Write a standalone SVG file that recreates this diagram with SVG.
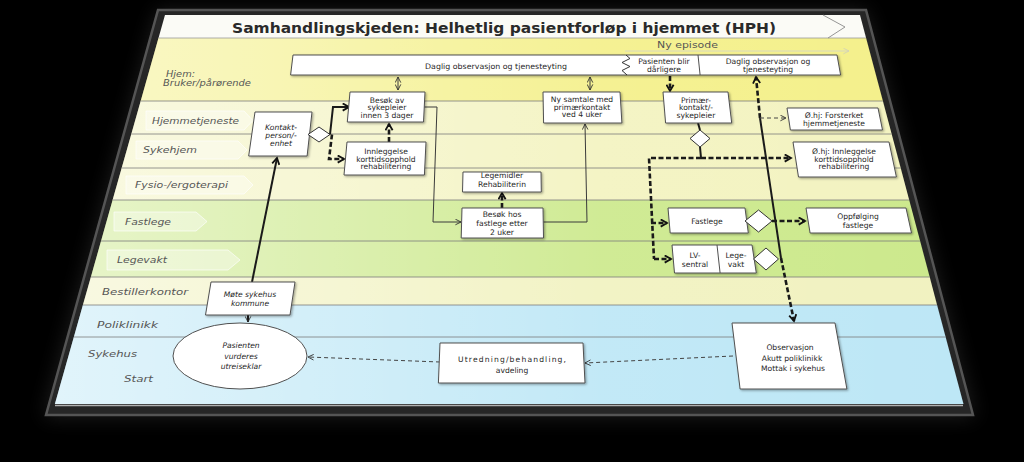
<svg xmlns="http://www.w3.org/2000/svg" width="1024" height="462" viewBox="0 0 1024 462">
<defs>
<style>
.ll{stroke:#7c7c7c;stroke-width:.8;fill:none}
.box{fill:#fff;stroke:#505050;stroke-width:1;filter:url(#sh)}
.t{font-family:"DejaVu Sans",Verdana,sans-serif;fill:#262626;text-anchor:middle;font-size:7.6px}
.ti{font-style:italic}
.lab{font-family:"DejaVu Sans",Verdana,sans-serif;fill:#565656;font-style:italic;font-size:9.5px}
.tag{fill:#fff;fill-opacity:.35;stroke:#fff;stroke-opacity:.8;stroke-width:.8}
.thin{fill:none;stroke:#3a3a3a;stroke-width:1}
.thick{fill:none;stroke:#1a1a1a;stroke-width:2}
.dash{fill:none;stroke:#1a1a1a;stroke-width:2.6;stroke-dasharray:5 2.5}
.tdash{fill:none;stroke:#444;stroke-width:1;stroke-dasharray:4 3}
.dia{fill:#fff;stroke:#333;stroke-width:1}
</style>
<linearGradient id="light" gradientUnits="userSpaceOnUse" x1="50" y1="0" x2="970" y2="0">
<stop offset="0" stop-color="#fff" stop-opacity=".55"/>
<stop offset=".3" stop-color="#fff" stop-opacity=".32"/>
<stop offset=".6" stop-color="#fff" stop-opacity=".08"/>
<stop offset="1" stop-color="#fff" stop-opacity="0"/>
</linearGradient>
<filter id="glow" x="-20%" y="-20%" width="140%" height="140%"><feGaussianBlur stdDeviation="10"/></filter>
<filter id="sh" x="-10%" y="-10%" width="130%" height="140%"><feDropShadow dx="1.2" dy="1.2" stdDeviation=".8" flood-color="#000" flood-opacity=".35"/></filter>
<marker id="arr" viewBox="0 0 10 10" refX="9" refY="5" markerWidth="7" markerHeight="7" markerUnits="userSpaceOnUse" orient="auto-start-reverse"><path d="M1,1 L9,5 L1,9" fill="none" stroke="#333" stroke-width="1.3"/></marker>
<marker id="arrB" viewBox="0 0 10 10" refX="8" refY="5" markerWidth="9" markerHeight="9" markerUnits="userSpaceOnUse" orient="auto-start-reverse"><path d="M1,1 L8,5 L1,9" fill="none" stroke="#111" stroke-width="2"/></marker>
<marker id="arrL" viewBox="0 0 10 10" refX="9" refY="5" markerWidth="7" markerHeight="7" markerUnits="userSpaceOnUse" orient="auto"><path d="M1,1 L9,5 L1,9" fill="none" stroke="#d0d0b8" stroke-width="1.2"/></marker>
</defs>

<rect width="1024" height="462" fill="#000"/>
<polygon points="158,10 866,10 975,417 44,417" fill="#777" opacity=".25" filter="url(#glow)"/>
<polygon points="158,10 866,10 973,415 46,415" fill="#262626" stroke="#555" stroke-width="2.5"/>

<g id="slide">
<polygon points="165,15 860,15 866.1,38 158.5,38" fill="#fbfbf6"/>
<polygon points="158.5,38 866.1,38 882.9,101 140.7,101" fill="#f4f08a"/>
<polygon points="140.7,101 882.9,101 909.2,200 112.6,200" fill="#f3f3c0"/>
<polygon points="112.6,200 909.2,200 929.7,277 90.9,277" fill="#cce98c"/>
<polygon points="90.9,277 929.7,277 937.1,305 82.9,305" fill="#f1f2c0"/>
<polygon points="82.9,305 937.1,305 963.5,404 54.9,404" fill="#bde7f6"/>
<polygon points="158.5,38 866.1,38 963.5,404 54.9,404" fill="url(#light)"/>
<line x1="55" y1="405.5" x2="963" y2="405.5" stroke="#b0b0b0" stroke-width="1.5"/>
<line x1="158.5" y1="38" x2="866.1" y2="38" stroke="#9a9a9a" stroke-width=".8"/>
<line class="ll" x1="140.7" y1="101" x2="882.9" y2="101"/>
<line class="ll" x1="131.3" y1="134" x2="891.7" y2="134"/>
<line class="ll" x1="121.7" y1="168" x2="900.7" y2="168"/>
<line class="ll" x1="112.6" y1="200" x2="909.2" y2="200"/>
<line class="ll" x1="101" y1="241" x2="920.1" y2="241"/>
<line class="ll" x1="90.9" y1="277" x2="929.7" y2="277"/>
<line class="ll" x1="82.9" y1="305" x2="937.1" y2="305"/>
<line class="ll" x1="73.9" y1="337" x2="945.7" y2="337"/>
<polyline points="823,15 845,27 828,38" fill="none" stroke="#8a8a8a" stroke-width=".9"/>
<text x="504" y="33" font-family="DejaVu Sans, Verdana, sans-serif" font-weight="bold" font-size="14.5" fill="#2a2a2a" text-anchor="middle" textLength="544" lengthAdjust="spacingAndGlyphs">Samhandlingskjeden: Helhetlig pasientforløp i hjemmet (HPH)</text>
<text x="687.5" y="48" font-family="DejaVu Sans, Verdana, sans-serif" font-size="9" fill="#555" text-anchor="middle" textLength="61" lengthAdjust="spacingAndGlyphs">Ny episode</text>
</g>

<g id="lane-labels">
<polygon class="tag" points="146,111 244,111 253,120.5 244,130 146,130"/>
<polygon class="tag" points="136,141 238,141 247,150 238,159 136,159"/>
<polygon class="tag" points="126,176 244,176 253,185 244,194 126,194"/>
<polygon class="tag" points="114,212 196,212 207,221.5 196,231 114,231"/>
<polygon class="tag" points="107,250 228,250 240,260 228,270 107,270"/>
<text class="lab" x="166" y="76.5" textLength="29" lengthAdjust="spacingAndGlyphs">Hjem:</text>
<text class="lab" x="163" y="85.5" textLength="88" lengthAdjust="spacingAndGlyphs">Bruker/pårørende</text>
<text class="lab" x="152" y="123.5" textLength="87" lengthAdjust="spacingAndGlyphs">Hjemmetjeneste</text>
<text class="lab" x="143" y="153" textLength="54" lengthAdjust="spacingAndGlyphs">Sykehjem</text>
<text class="lab" x="135" y="187.5" textLength="93" lengthAdjust="spacingAndGlyphs">Fysio-/ergoterapi</text>
<text class="lab" x="125" y="224.5" textLength="46" lengthAdjust="spacingAndGlyphs">Fastlege</text>
<text class="lab" x="117" y="262.5" textLength="50" lengthAdjust="spacingAndGlyphs">Legevakt</text>
<text class="lab" x="102" y="294.5" textLength="86" lengthAdjust="spacingAndGlyphs">Bestillerkontor</text>
<text class="lab" x="97" y="327.5" textLength="61" lengthAdjust="spacingAndGlyphs">Poliklinikk</text>
<text class="lab" x="88" y="357" textLength="49" lengthAdjust="spacingAndGlyphs">Sykehus</text>
<text class="lab" x="124" y="382" textLength="29" lengthAdjust="spacingAndGlyphs">Start</text>
</g>

<g id="connectors">
<path d="M625,51 L849,51" stroke="#d8d8c0" stroke-width="1" fill="none" marker-end="url(#arrL)"/>
<path class="thin" d="M398,77 L398,90" marker-start="url(#arr)" marker-end="url(#arr)"/>
<path class="thin" d="M590,77 L590,90" marker-start="url(#arr)" marker-end="url(#arr)"/>
<path class="dash" d="M670,76 L670,91" marker-end="url(#arrB)"/>
<path class="dash" d="M760,118 L756,77" marker-end="url(#arrB)"/>
<path class="thick" d="M760,118 L781,258"/>
<path class="dash" d="M781,258 L794,321" marker-end="url(#arrB)"/>
<path class="tdash" d="M760,118 L786,118" marker-end="url(#arr)"/>
<path class="thick" d="M698,123 L700,130"/>
<path class="thick" d="M700,147 L701,158"/>
<path class="dash" d="M701,158 L791,158" marker-end="url(#arrB)"/>
<path class="dash" d="M701,158 L649,158 L654,259"/>
<path class="dash" d="M651,223 L667,223" marker-end="url(#arrB)"/>
<path class="dash" d="M654,259 L671,259" marker-end="url(#arrB)"/>
<path class="dash" d="M772,221 L805,221" marker-end="url(#arrB)"/>
<path class="thick" d="M330,134.5 L333,107 L349,107" marker-end="url(#arrB)"/>
<path class="dash" d="M332,134.5 L329,159 L344,159" marker-end="url(#arrB)"/>
<path class="dash" d="M389,142 L389,124" marker-end="url(#arrB)"/>
<path class="thin" d="M424,107 L437,107 L433,222 L461,222" marker-end="url(#arr)"/>
<path class="thin" d="M543,222 L587,222 L585,124" marker-end="url(#arr)"/>
<path class="dash" d="M502,208 L502,193" marker-end="url(#arrB)"/>
<path class="thick" d="M252,282 L277,158" marker-end="url(#arrB)"/>
<path class="thick" d="M248,315 L248,322" marker-end="url(#arr)"/>
<path class="tdash" d="M440,362 L308,357" marker-end="url(#arr)"/>
<path class="tdash" d="M733,356 L585,363" marker-end="url(#arr)"/>
</g>

<g id="n-daglig">
<polygon class="box" points="293,55 837,55 840.6,75 290.6,75"/>
<polyline points="626,55 630,58.5 622,62.5 630,66.5 622,70.5 627,75" fill="none" stroke="#333" stroke-width="1"/>
<line x1="698" y1="55" x2="700.1" y2="75" stroke="#505050" stroke-width="1"/>
<text class="t" x="496" y="68.5" textLength="142" lengthAdjust="spacingAndGlyphs">Daglig observasjon og tjenesteyting</text>
</g>
<g id="n-darligere">
<text class="t" x="664" y="63.5" font-size="7">Pasienten blir</text>
<text class="t" x="664" y="71.5" font-size="7">dårligere</text>
</g>
<g id="n-daglig2">
<text class="t" x="768" y="63.5" font-size="7.3">Daglig observasjon og</text>
<text class="t" x="768" y="71.5" font-size="7.3">tjenesteyting</text>
</g>

<g id="n-besok-sykepleier">
<polygon class="box" points="350,92 425,92 423.5,122 347.3,122"/>
<text class="t" x="387" y="102.5">Besøk av</text>
<text class="t" x="387" y="110">sykepleier</text>
<text class="t" x="387" y="117.5">innen 3 dager</text>
</g>
<g id="n-kontakt">
<polygon class="box" points="255,112 312,112 307.1,156 248.7,156"/>
<text class="t ti" x="281" y="129.5">Kontakt-</text>
<text class="t ti" x="281" y="137.5">person/-</text>
<text class="t ti" x="281" y="145.5">enhet</text>
</g>
<g id="n-d1"><polygon class="dia" points="308,134.5 319,127 330,134.5 319,142"/></g>
<g id="n-innleggelse">
<polygon class="box" points="347,142 426,142 424.4,175 344,175"/>
<text class="t" x="386" y="154" font-size="7.9">Innleggelse</text>
<text class="t" x="386" y="161.5" font-size="7.9">korttidsopphold</text>
<text class="t" x="386" y="169" font-size="7.9">rehabilitering</text>
</g>
<g id="n-ny-samtale">
<polygon class="box" points="543,92 620,92 621.9,123 543.6,123"/>
<text class="t" x="582" y="102">Ny samtale med</text>
<text class="t" x="582" y="109.5">primærkontakt</text>
<text class="t" x="582" y="117">ved 4 uker</text>
</g>
<g id="n-primar">
<polygon class="box" points="663,92 728,92 731.7,123 665.6,123"/>
<text class="t" x="696" y="102.5">Primær-</text>
<text class="t" x="696" y="110">kontakt/-</text>
<text class="t" x="696" y="117.5">sykepleier</text>
</g>
<g id="n-d2"><polygon class="dia" points="690,138.5 700,130 710,138.5 700,147"/></g>
<g id="n-ohj-forsterket">
<polygon class="box" points="787,108 878,108 882.5,130 790.4,130"/>
<text class="t" x="834" y="117.5">Ø.hj: Forsterket</text>
<text class="t" x="834" y="126">hjemmetjeneste</text>
</g>
<g id="n-ohj-innleggelse">
<polygon class="box" points="793,142 889,142 896.4,177 798.5,177"/>
<text class="t" x="844" y="154" font-size="7.9">Ø.hj: Innleggelse</text>
<text class="t" x="844" y="161.5" font-size="7.9">korttidsopphold</text>
<text class="t" x="844" y="169" font-size="7.9">rehabilitering</text>
</g>
<g id="n-legemidler">
<polygon class="box" points="463,172 541,172 541.3,192 462.5,192"/>
<text class="t" x="502" y="177.5" font-size="7.8">Legemidler</text>
<text class="t" x="502" y="186.5" font-size="7.8">Rehabiliterin</text>
</g>
<g id="n-besok-fastlege">
<polygon class="box" points="462,208 543,208 543.5,238 461.2,238"/>
<text class="t" x="502" y="216.5" font-size="8">Besøk hos</text>
<text class="t" x="502" y="225.5" font-size="8">fastlege etter</text>
<text class="t" x="502" y="234.5" font-size="8">2 uker</text>
</g>
<g id="n-fastlege">
<polygon class="box" points="668,208 745,208 748.3,233 670.2,233"/>
<text class="t" x="707" y="223.5" font-size="8">Fastlege</text>
</g>
<g id="n-d3"><polygon class="dia" points="745,221 758.5,210 772,221 758.5,232"/></g>
<g id="n-oppfolging">
<polygon class="box" points="806,208 906,208 911.5,233 810.1,233"/>
<text class="t" x="858" y="219" font-size="8">Oppfølging</text>
<text class="t" x="858" y="228" font-size="8">fastlege</text>
</g>
<g id="n-lv">
<polygon class="box" points="672,245 752,245 756.3,273 674.5,273"/>
<line x1="717" y1="245" x2="720.1" y2="273" stroke="#505050" stroke-width="1"/>
<text class="t" x="695" y="257.5" font-size="8">LV-</text>
<text class="t" x="695" y="266.5" font-size="8">sentral</text>
<text class="t" x="736" y="257.5" font-size="8">Lege-</text>
<text class="t" x="736" y="266.5" font-size="8">vakt</text>
</g>
<g id="n-d4"><polygon class="dia" points="753.5,259 766,248 778.5,259 766,270"/></g>
<g id="n-mote">
<polygon class="box" points="211,282 295,282 290,315 205.5,315"/>
<text class="t ti" x="250" y="296.5" font-size="8.6">Møte sykehus</text>
<text class="t ti" x="250" y="305.5" font-size="8.6">kommune</text>
</g>
<g id="n-pasienten">
<ellipse cx="240" cy="356" rx="67" ry="33" fill="#fff" stroke="#505050" stroke-width="1"/>
<text class="t ti" x="241" y="348" font-size="9">Pasienten</text>
<text class="t ti" x="241" y="358.5" font-size="9">vurderes</text>
<text class="t ti" x="241" y="369" font-size="9">utreiseklar</text>
</g>
<g id="n-utredning">
<polygon class="box" points="440,343 583,343 585,383 438.4,383"/>
<text class="t" x="512" y="362" font-size="9.6" textLength="108" lengthAdjust="spacing">Utredning/behandling,</text>
<text class="t" x="512" y="373" font-size="9.6">avdeling</text>
</g>
<g id="n-observasjon">
<polygon class="box" points="732,323 835,323 846.9,389 740.1,389"/>
<text class="t" x="790" y="350" font-size="9">Observasjon</text>
<text class="t" x="792" y="360.5" font-size="9">Akutt poliklinikk</text>
<text class="t" x="793" y="371" font-size="9">Mottak i sykehus</text>
</g>
</svg>
